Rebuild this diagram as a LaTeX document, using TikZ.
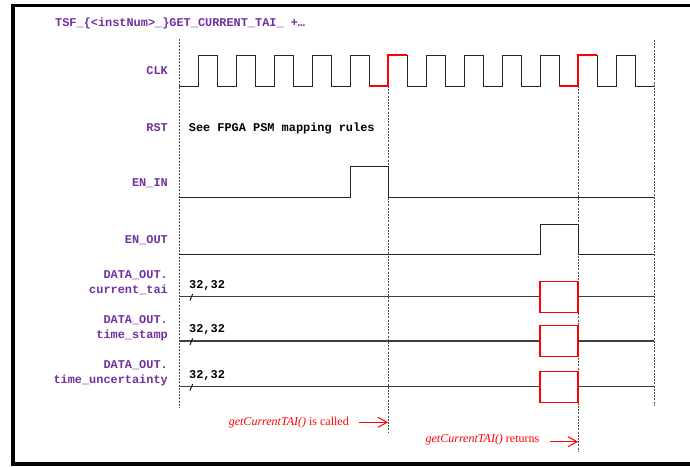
\documentclass[tikz,border=0pt]{standalone}
\usepackage{fontspec}
\setmainfont{Liberation Serif}
\newfontfamily\sigfont{Liberation Mono}
\usetikzlibrary{arrows.meta}
\definecolor{sigpurple}{HTML}{7030A0}
\definecolor{markred}{HTML}{FF0000}
\definecolor{gridgray}{HTML}{505050}

\tikzset{
  monotext/.style={font=\sigfont\bfseries\fontsize{11.9}{14.5}\selectfont, inner sep=0pt},
  siglabel/.style={monotext, text=sigpurple, align=right, anchor=base east},
  note/.style={monotext, text=black, anchor=base west},
  wave/.style={draw=black!85, line width=1pt, line join=miter},
  redwave/.style={draw=markred, line width=1.1pt, line join=miter},
  buswave/.style={draw=black!75, line width=1.1pt},
  redbox/.style={draw=markred, line width=1.2pt},
  timeline/.style={draw=gridgray, line width=1pt, dash pattern=on 2pt off 1.2pt},
  callout/.style={font=\fontsize{12}{14}\selectfont, text=markred, inner sep=0pt},
  calloutarrow/.style={draw=markred, line width=1pt, -{Straight Barb[length=9pt,width=10pt]}},
}

\begin{document}
\begin{tikzpicture}[x=1pt, y=-1pt]
  \useasboundingbox (0,0) rectangle (690,466);

  % page frame (open on the right)
  \draw[line width=3.5pt, line join=miter] (692,5.5) -- (13,5.5) -- (13,464) -- (692,464);

  % title
  \node[monotext, text=sigpurple, anchor=base west] (title) at (55,26.7)
    {TSF\_\{<instNum>\_\}GET\_CURRENT\_TAI\_ +…};

  % signal names
  \node[siglabel] (lclk)   at (168,74)    {CLK};
  \node[siglabel] (lrst)   at (168,131)   {RST};
  \node[siglabel] (lenin)  at (168,186)   {EN\_IN};
  \node[siglabel] (lenout) at (168,243)   {EN\_OUT};
  \node[siglabel] (ltai)   at (168,293)   {DATA\_OUT.\\current\_tai};
  \node[siglabel] (lstamp) at (168,338)   {DATA\_OUT.\\time\_stamp};
  \node[siglabel] (lunc)   at (168,383.3) {DATA\_OUT.\\time\_uncertainty};

  % time markers
  \draw[timeline] (179,39)  -- (179,408);
  \draw[timeline] (388,86)  -- (388,433);
  \draw[timeline] (578,86)  -- (578,451);
  \draw[timeline] (654,40)  -- (654,405);

  % CLK
  \draw[wave] (179,86)
    \foreach \k in {0,...,11} {
      -- ({198+38*\k},86) -- ({198+38*\k},55) -- ({217+38*\k},55) -- ({217+38*\k},86)
    } -- (654,86);
  \draw[redwave] (369,86) -- (388,86) -- (388,55) -- (407,55);
  \draw[redwave] (559,86) -- (578,86) -- (578,55) -- (597,55);

  % RST
  \node[note] (rstnote) at (188.7,131) {See FPGA PSM mapping rules};

  % EN_IN
  \draw[wave] (179,197.3) -- (350,197.3) -- (350,166.7) -- (388,166.7) -- (388,197.3) -- (654,197.3);

  % EN_OUT
  \draw[wave] (179,254.3) -- (540,254.3) -- (540,224.3) -- (578,224.3) -- (578,254.3) -- (654,254.3);

  % DATA_OUT buses
  \foreach \y/\name in {296.7/tai, 341/stamp, 386.7/unc} {
    \draw[buswave] (179,\y) -- (540,\y);
    \draw[redbox] (540,\y-15.6) rectangle (578,\y+15.6);
    \draw[buswave] (578,\y) -- (654,\y);
    \draw[black, line width=0.9pt] (190,\y+3.8) -- (192.6,\y-2.6);
    \node[note] (w\name) at (189,\y-8.7) {32,32};
  }

  % call / return annotations
  \node[callout, anchor=base east] (callnote) at (349,425.7)
    {\textit{getCurrentTAI()} is called};
  \coordinate (callfrom) at (359,422.3);
  \coordinate (callat)   at (388,422.3);
  \draw[calloutarrow] (callfrom) -- (callat);

  \node[callout, anchor=base east] (retnote) at (539.5,442.8)
    {\textit{getCurrentTAI()} returns};
  \coordinate (retfrom) at (550,441.7);
  \coordinate (retat)   at (578,441.7);
  \draw[calloutarrow] (retfrom) -- (retat);
\end{tikzpicture}
\end{document}
